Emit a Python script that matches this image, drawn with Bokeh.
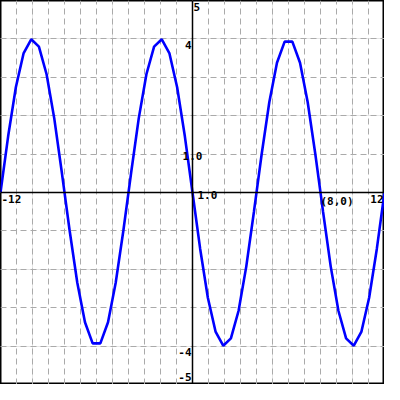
from bokeh.plotting import figure
from bokeh.models import Grid, FixedTicker, Span, ColumnDataSource
from bokeh.core.properties import value
from bokeh.embed import file_html
from bokeh.resources import INLINE

# curve samples
xs = [-12.0, -11.52, -11.04, -10.56, -10.08, -9.6, -9.12, -8.64, -8.16, -7.68,
      -7.2, -6.72, -6.24, -5.76, -5.28, -4.8, -4.32, -3.84, -3.36, -2.88,
      -2.4, -1.92, -1.44, -0.96, -0.48, 0.0, 0.48, 0.96, 1.44, 1.92,
      2.4, 2.88, 3.36, 3.84, 4.32, 4.8, 5.28, 5.76, 6.24, 6.72,
      7.2, 7.68, 8.16, 8.64, 9.12, 9.6, 10.08, 10.56, 11.04, 11.52, 12.0]
ys = [0.0, 1.47, 2.74, 3.62, 3.99, 3.80, 3.08, 1.93, 0.50, -0.99,
      -2.35, -3.38, -3.93, -3.93, -3.38, -2.35, -0.99, 0.50, 1.93, 3.08,
      3.80, 3.99, 3.62, 2.74, 1.47, 0.0, -1.47, -2.74, -3.62, -3.99,
      -3.80, -3.08, -1.93, -0.50, 0.99, 2.35, 3.38, 3.93, 3.93, 3.38,
      2.35, 0.99, -0.50, -1.93, -3.08, -3.80, -3.99, -3.62, -2.74, -1.47, 0.0]

x_grid = [-11, -10, -9, -8, -7, -6, -5, -4, -3, -2, -1, 1, 2, 3, 4, 5, 6, 7, 8, 9, 10, 11]
y_grid = [-4, -3, -2, -1, 1, 2, 3, 4]

# labels: text, x, y, align, baseline, x_offset, y_offset
lab_text = ["-12", "12", "5", "4", "1.0", "1.0", "(8,0)", "-4", "-5"]
lab_x = [-12, 12, 0, 0, 0, 0, 8, 0, 0]
lab_y = [0, 0, 5, 4, 1, 0, 0, -4, -5]
lab_align = ["left", "right", "left", "right", "center", "left", "left", "right", "right"]
lab_base = ["top", "top", "top", "top", "top", "top", "top", "top", "bottom"]
lab_dx = [1, -1, 1, -1, 0, 5, 0, -1, -1]
lab_dy = [2, 2, 2, 2, -2, -2, 2, 2, -4]

W = 384
p = figure(width=W, height=W, x_range=(-12, 12), y_range=(-5, 5),
           x_axis_location=None, y_axis_location=None,
           output_backend="svg", toolbar_location=None,
           min_border=0, background_fill_color="white")
p.outline_line_color = "black"
p.outline_line_width = 2

p.add_layout(Grid(dimension=0, ticker=FixedTicker(ticks=x_grid),
                  grid_line_color="#aaaaaa", grid_line_dash="6 4", grid_line_width=1))
p.add_layout(Grid(dimension=1, ticker=FixedTicker(ticks=y_grid),
                  grid_line_color="#aaaaaa", grid_line_dash="6 4", grid_line_width=1))

p.add_layout(Span(location=0, dimension="height", line_color="black", line_width=1.5))
p.add_layout(Span(location=0, dimension="width", line_color="black", line_width=1.5))

p.line(xs, ys, line_color="#0000ff", line_width=2.6)

src = ColumnDataSource(dict(x=lab_x, y=lab_y, t=lab_text, a=lab_align, b=lab_base,
                            dx=lab_dx, dy=lab_dy))
p.text(x="x", y="y", text="t", text_align="a", text_baseline="b",
       x_offset="dx", y_offset="dy", source=src,
       text_font=value("DejaVu Sans Mono"), text_font_style="bold",
       text_font_size="11px", text_color="black")

open("out.html", "w").write(file_html(p, INLINE))
